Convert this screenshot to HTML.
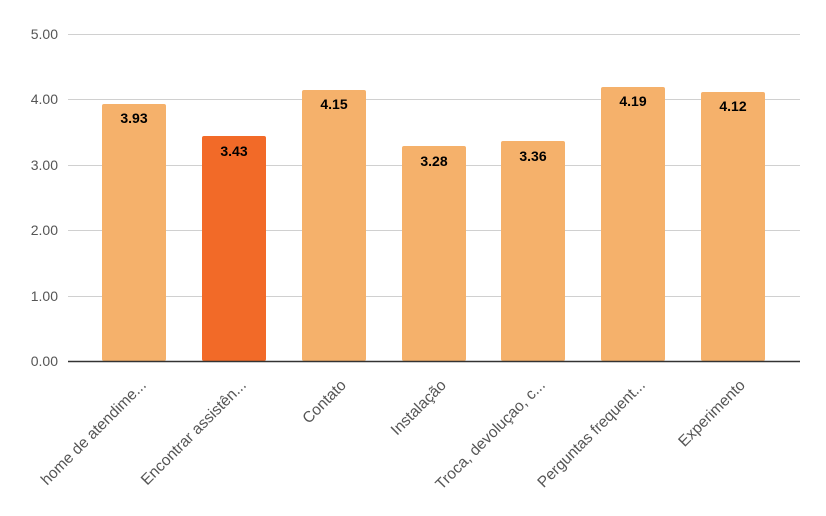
<!DOCTYPE html>
<html><head><meta charset="utf-8"><style>
body{margin:0;background:#fff;}
svg text{font-family:"Liberation Sans",Arial,sans-serif;}
</style></head><body>
<svg width="826" height="511" viewBox="0 0 826 511" xmlns="http://www.w3.org/2000/svg">
<g stroke="#d0d0d0" stroke-width="1">
<line x1="68" x2="800" y1="34.5" y2="34.5"/>
<line x1="68" x2="800" y1="99.5" y2="99.5"/>
<line x1="68" x2="800" y1="165.5" y2="165.5"/>
<line x1="68" x2="800" y1="230.5" y2="230.5"/>
<line x1="68" x2="800" y1="296.5" y2="296.5"/>
</g>
<g font-size="14" fill="#555" text-anchor="end">
<text x="58" y="39">5.00</text>
<text x="58" y="104">4.00</text>
<text x="58" y="170">3.00</text>
<text x="58" y="235">2.00</text>
<text x="58" y="301">1.00</text>
<text x="58" y="366">0.00</text>
</g>
<g fill="#F5B16B">
<rect x="102" y="104" width="64" height="257" rx="2"/>
<rect x="302" y="90" width="64" height="271" rx="2"/>
<rect x="402" y="146" width="64" height="215" rx="2"/>
<rect x="501" y="141" width="64" height="220" rx="2"/>
<rect x="601" y="87" width="64" height="274" rx="2"/>
<rect x="701" y="92" width="64" height="269" rx="2"/>
</g>
<rect x="202" y="136" width="64" height="225" rx="2" fill="#F26A28"/>
<line x1="68" x2="800" y1="361.5" y2="361.5" stroke="#333" stroke-width="1.5"/>
<g font-size="14" font-weight="bold" fill="#000" text-anchor="middle">
<text x="134" y="123">3.93</text>
<text x="234" y="156">3.43</text>
<text x="334" y="109">4.15</text>
<text x="434" y="166">3.28</text>
<text x="533" y="161">3.36</text>
<text x="633" y="106">4.19</text>
<text x="733" y="111">4.12</text>
</g>
<g font-size="15.5" fill="#555" text-anchor="end">
<text transform="translate(147,386) rotate(-45)">home de atendime...</text>
<text transform="translate(247,386) rotate(-45)">Encontrar assistên...</text>
<text transform="translate(347,386) rotate(-45)">Contato</text>
<text transform="translate(447,386) rotate(-45)">Instalação</text>
<text transform="translate(546,386) rotate(-45)">Troca, devoluçao, c...</text>
<text transform="translate(646,386) rotate(-45)">Perguntas frequent...</text>
<text transform="translate(746,386) rotate(-45)">Experimento</text>
</g>
</svg>
</body></html>
